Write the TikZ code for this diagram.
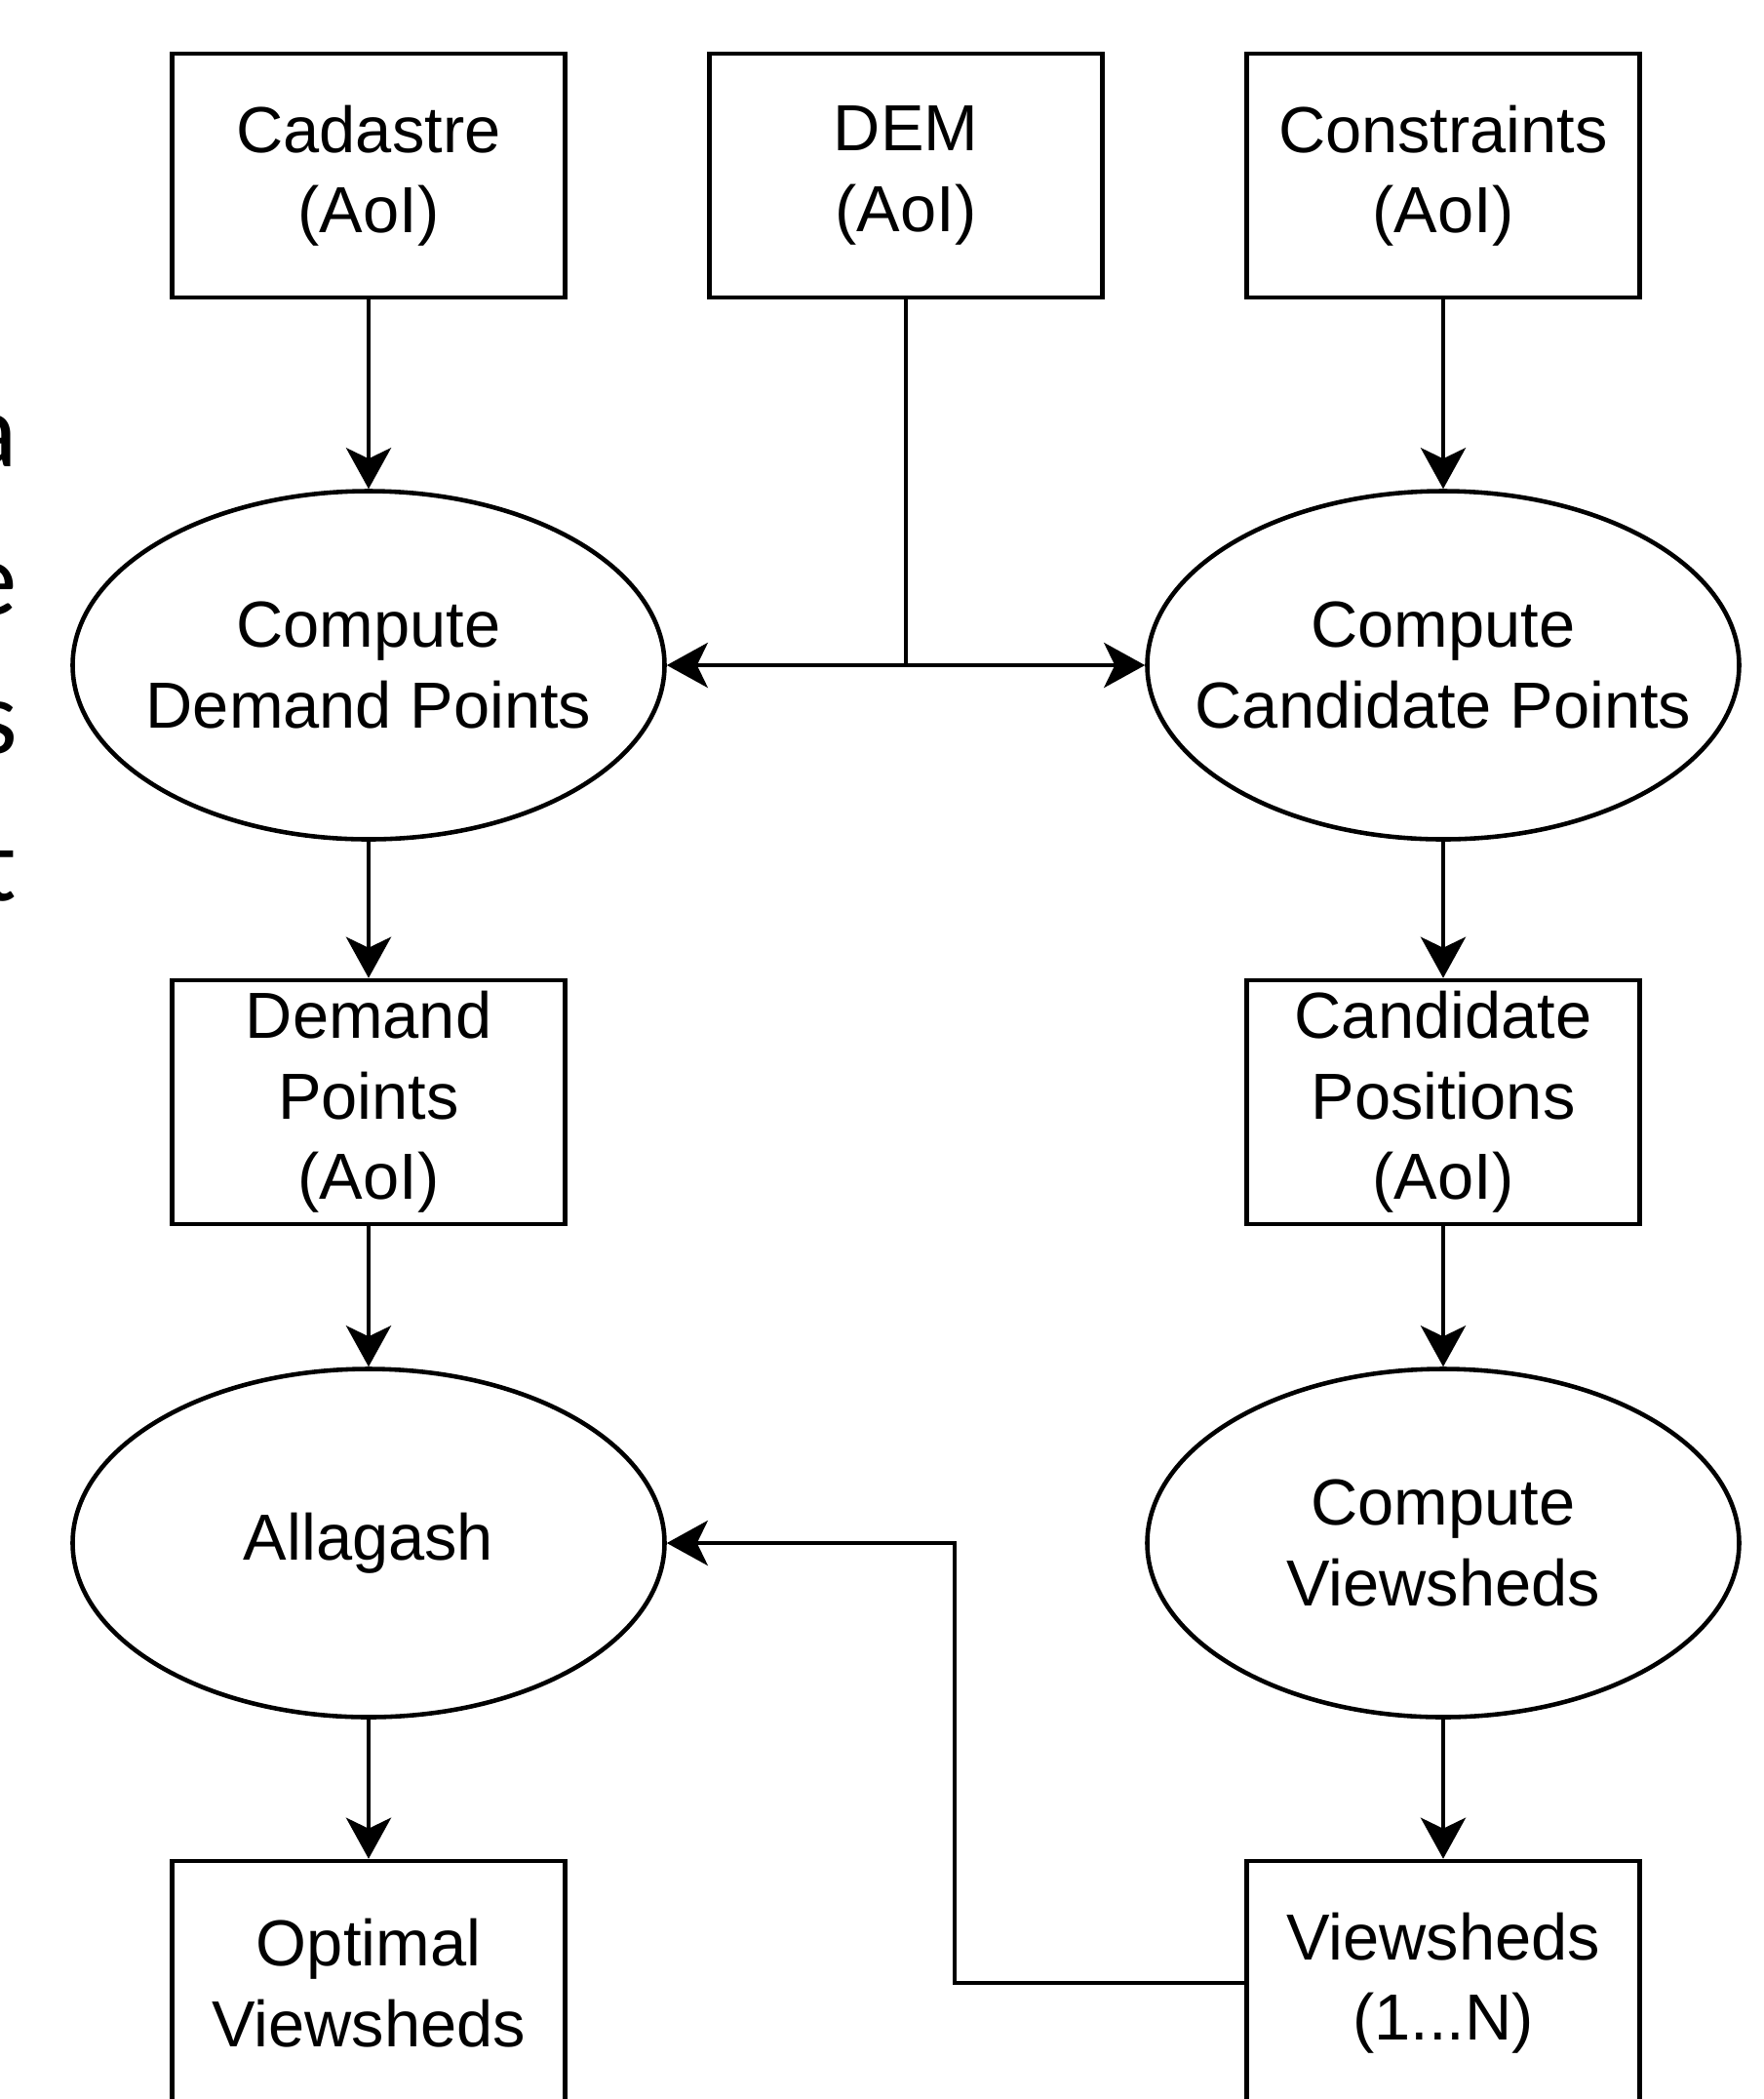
\documentclass[tikz,border=0pt]{standalone}
\usepackage{fontspec}
\setmainfont{Liberation Sans}
\newfontfamily\slidefont{Carlito}
\usetikzlibrary{shapes,arrows.meta,positioning,calc}

\begin{document}
\begin{tikzpicture}[
    databox/.style={draw, line width=1.3pt, minimum width=4.03cm, minimum height=2.5cm,
        inner sep=0pt, align=center, font=\fontsize{19}{23.5}\selectfont},
    procnode/.style={draw, ellipse, line width=1.3pt, minimum width=6.07cm, minimum height=3.57cm,
        inner ysep=0pt, inner xsep=-1cm, align=center, font=\fontsize{19}{23.5}\selectfont},
    flow/.style={-{Stealth[length=0.42cm, width=0.46cm, inset=0.11cm]}, line width=1.3pt},
    cutoff/.style={anchor=base east, inner sep=0pt, font=\slidefont\fontsize{31}{37}\selectfont}]

    \useasboundingbox (0,0) rectangle (18.09,-21.52);

    % Cut-off letters on the left edge
    \node[cutoff] (la) at (0.18,-4.78) {a};
    \node[cutoff] (le) at (0.18,-6.30) {e};
    \node[cutoff] (ls) at (0.19,-7.72) {s};
    \node[cutoff] (lt) at (0.18,-9.23) {t};

    % Inputs
    \node[databox] (cad) at (3.78,-1.80) {Cadastre\\(AoI)};
    \node[databox] (dem) at (9.29,-1.80) {DEM\\(AoI)};
    \node[databox] (con) at (14.80,-1.80) {Constraints\\(AoI)};

    % Point generation
    \node[procnode] (cdp) at (3.78,-6.82) {Compute\\Demand Points};
    \node[procnode] (ccp) at (14.80,-6.82) {Compute\\Candidate Points};

    \node[databox] (dpt) at (3.78,-11.30) {Demand\\Points\\(AoI)};
    \node[databox] (cpos) at (14.80,-11.30) {Candidate\\Positions\\(AoI)};

    % Viewsheds and optimisation
    \node[procnode] (alg) at (3.78,-15.82) {Allagash};
    \node[procnode] (cvs) at (14.80,-15.82) {Compute\\Viewsheds};

    \node[databox] (opt) at (3.78,-20.33) {Optimal\\Viewsheds};
    \node[databox] (vsn) at (14.80,-20.33) {Viewsheds\\(1...N)};

    % Connectors
    \draw[flow] (cad) -- (cdp);
    \draw[flow] (cdp) -- (dpt);
    \draw[flow] (dpt) -- (alg);
    \draw[flow] (alg) -- (opt);

    \draw[flow] (con) -- (ccp);
    \draw[flow] (ccp) -- (cpos);
    \draw[flow] (cpos) -- (cvs);
    \draw[flow] (cvs) -- (vsn);

    % DEM feeds both point steps
    \coordinate (split) at (dem.south |- cdp.east);
    \draw[line width=1.3pt] (dem) -- (split);
    \draw[flow] (split) -- (cdp.east);
    \draw[flow] (split) -- (ccp.west);

    % Viewsheds back into Allagash
    \coordinate (bend) at (9.79,-18);
    \draw[flow] (vsn.west) -- (vsn.west -| bend) |- (alg.east);
\end{tikzpicture}
\end{document}
